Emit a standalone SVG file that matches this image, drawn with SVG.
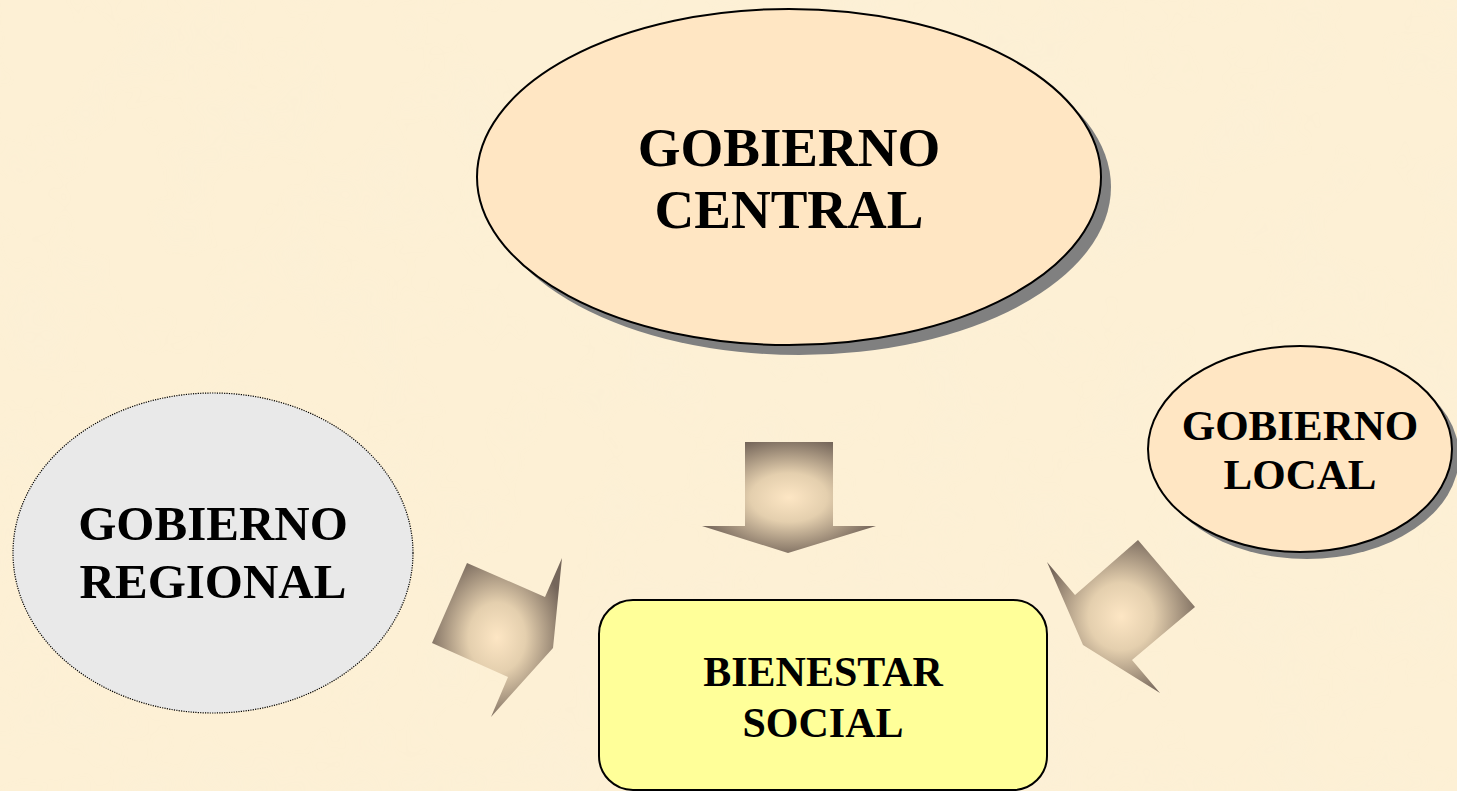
<svg xmlns="http://www.w3.org/2000/svg" width="1457" height="791" viewBox="0 0 1457 791">
<defs>
<style>
.t{font-family:"Liberation Serif","Times New Roman",serif;font-weight:bold;fill:#000;text-anchor:middle}
.node{stroke:#000;stroke-width:2}
.shadow{fill:#808080}
.arr{stroke:none}
</style>
<radialGradient id="ag" cx="0.5" cy="0.5" r="0.55">
<stop offset="0" stop-color="#FDE6C4"/>
<stop offset="0.4" stop-color="#E4CFAE"/>
<stop offset="1" stop-color="#75665A"/>
</radialGradient>
<filter id="tex" x="0" y="0" width="100%" height="100%">
<feTurbulence type="fractalNoise" baseFrequency="0.012" numOctaves="3" seed="4"/>
<feColorMatrix type="matrix" values="0 0 0 0 0.93  0 0 0 0 0.86  0 0 0 0 0.70  0 0 0 1.2 -0.55"/>
</filter>
</defs>
<rect width="1457" height="791" fill="#FDF0D5"/>
<rect width="1457" height="791" filter="url(#tex)" opacity="0.4"/>

<g id="connectors">
<polygon class="arr" fill="url(#ag)" points="745,442 833,442 833,526 876,526 788,553 702,526 745,526"/>
<polygon class="arr" fill="url(#ag)" points="467,563 545,597 562,558 553,648 491,717 508,677 432,643"/>
<polygon class="arr" fill="url(#ag)" points="1138,540 1195,607 1132,660 1160,693 1083,645 1047,562 1075,595"/>
</g>

<g id="gobierno-central">
<ellipse class="shadow" cx="799" cy="187" rx="312" ry="168"/>
<ellipse class="node" cx="789" cy="177" rx="312" ry="168" fill="#FFE6C3"/>
<text class="t" x="789" y="166" font-size="55">GOBIERNO</text>
<text class="t" x="789" y="228" font-size="55">CENTRAL</text>
</g>

<g id="gobierno-local">
<ellipse class="shadow" cx="1307" cy="456" rx="152" ry="103"/>
<ellipse class="node" cx="1300" cy="449" rx="152" ry="103" fill="#FFE6C3"/>
<text class="t" x="1300" y="440" font-size="43">GOBIERNO</text>
<text class="t" x="1300" y="489" font-size="43">LOCAL</text>
</g>

<g id="gobierno-regional">
<ellipse cx="213" cy="553" rx="200" ry="160" fill="#E9E9E9" stroke="#000" stroke-width="1.2" stroke-dasharray="1.2 1.2"/>
<text class="t" x="213" y="540" font-size="49">GOBIERNO</text>
<text class="t" x="213" y="598" font-size="49">REGIONAL</text>
</g>

<g id="bienestar-social">
<rect class="node" x="599" y="600" width="448" height="190" rx="34" ry="34" fill="#FFFF99"/>
<text class="t" x="823" y="686" font-size="42">BIENESTAR</text>
<text class="t" x="823" y="737" font-size="42">SOCIAL</text>
</g>
</svg>
